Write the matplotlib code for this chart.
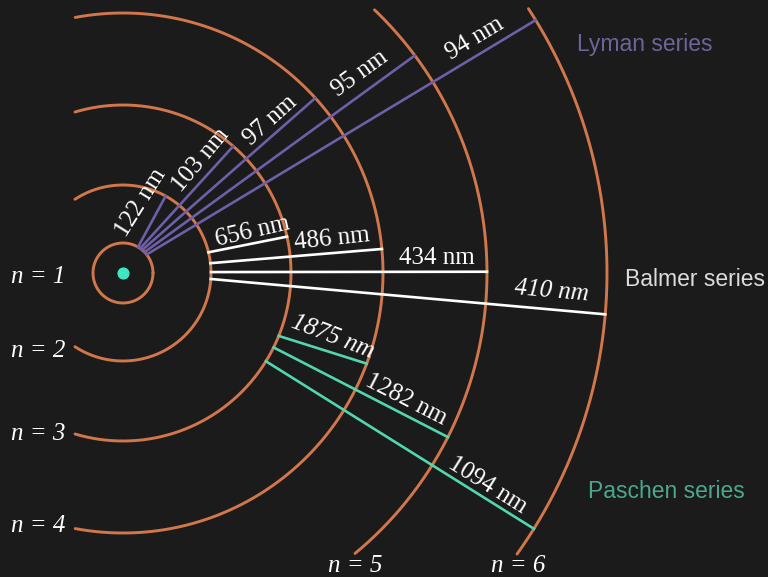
import numpy as np
import matplotlib
matplotlib.use("Agg")
import matplotlib.pyplot as plt

# orbit radii (px) and visible arc spans (deg, counter-clockwise from +x)
orbit_n = [1, 2, 3, 4, 5, 6]
orbit_r = [30, 88, 168, 260, 364, 484]
orbit_span = [(0, 360), (-123.1, 123.1), (-106.6, 106.6), (-100.6, 100.6),
              (-50.4, 46.3), (-35.5, 33.1)]

# transitions: lower orbit, upper orbit, angle on lower, angle on upper, wavelength
lyman_lo = [1, 1, 1, 1, 1]
lyman_hi = [2, 3, 4, 5, 6]
lyman_a0 = [60, 55, 50, 44, 38]
lyman_a1 = [61, 49, 42.3, 36.7, 31.5]
lyman_nm = [122, 103, 97, 95, 94]

balmer_lo = [2, 2, 2, 2]
balmer_hi = [3, 4, 5, 6]
balmer_a0 = [13.6, 6.4, 0.6, -3.9]
balmer_a1 = [12.5, 5.3, 0.2, -4.9]
balmer_nm = [656, 486, 434, 410]

paschen_lo = [3, 3, 3]
paschen_hi = [4, 5, 6]
paschen_a0 = [-22.0, -26.3, -31.7]
paschen_a1 = [-20.4, -26.8, -31.9]
paschen_nm = [1875, 1282, 1094]

BG = "#1b1b1b"
ORANGE = "#d2774b"
LYMAN = "#6d5fa8"
BALMER = "#ffffff"
PASCHEN = "#52d6b0"

cx, cy = 123, 273


def polar(r, deg):
    t = np.radians(deg)
    return cx + r * np.cos(t), cy - r * np.sin(t)


fig = plt.figure(figsize=(7.68, 5.77), dpi=100, facecolor=BG)
ax = fig.add_axes([0, 0, 1, 1])
ax.set_facecolor(BG)
ax.set_xlim(0, 768)
ax.set_ylim(577, 0)
ax.set_aspect("equal")
ax.axis("off")

for r, (a0, a1) in zip(orbit_r, orbit_span):
    th = np.linspace(a0, a1, 400)
    x, y = polar(r, th)
    ax.plot(x, y, color=ORANGE, lw=2.1, solid_capstyle="round")

# nucleus
ax.scatter([cx], [cy], s=60, color="#3ee8c2", zorder=5)


def draw_series(lo, hi, a0, a1, color):
    for l, h, s, e in zip(lo, hi, a0, a1):
        x0, y0 = polar(orbit_r[l - 1], s)
        x1, y1 = polar(orbit_r[h - 1], e)
        ax.plot([x0, x1], [y0, y1], color=color, lw=1.9)


draw_series(lyman_lo, lyman_hi, lyman_a0, lyman_a1, LYMAN)
draw_series(balmer_lo, balmer_hi, balmer_a0, balmer_a1, BALMER)
draw_series(paschen_lo, paschen_hi, paschen_a0, paschen_a1, PASCHEN)

serif = "Liberation Serif"

# wavelength labels: (x, y, rotation, italic)
lyman_lbl = [(141, 203, 58, False), (201, 160, 50, False), (270, 120, 42, False),
             (360, 74, 36, False), (475, 39, 31, False)]
balmer_lbl = [(253, 232, 13, False), (332, 239, 6, False), (437, 258, 0, False),
              (552, 291, -5, True)]
paschen_lbl = [(333, 337, -21, True), (406, 400, -27, False), (488, 485, -32, False)]

for nms, lbls in [(lyman_nm, lyman_lbl), (balmer_nm, balmer_lbl), (paschen_nm, paschen_lbl)]:
    for nm, (x, y, rot, it) in zip(nms, lbls):
        ax.text(x, y, f"{nm} nm", color="white", fontsize=18, family=serif,
                style="italic" if it else "normal", rotation=rot,
                rotation_mode="anchor", ha="center", va="center")

# orbit labels
for n, (x, y) in zip(orbit_n, [(38, 277), (38, 351), (38, 434), (38, 526),
                               (355, 566), (518, 566)]):
    ax.text(x, y, f"n = {n}", color="white", fontsize=18, family=serif,
            style="italic", ha="center", va="center")

ax.text(577, 44, "Lyman series", color="#6b6599", fontsize=16.5,
        family="Liberation Sans", ha="left", va="center")
ax.text(625, 280, "Balmer series", color="#dcdcdc", fontsize=16.5,
        family="Liberation Sans", ha="left", va="center")
ax.text(588, 491, "Paschen series", color="#4aa88d", fontsize=16.5,
        family="Liberation Sans", ha="left", va="center")

fig.savefig("out.png", dpi=100, facecolor=BG)
